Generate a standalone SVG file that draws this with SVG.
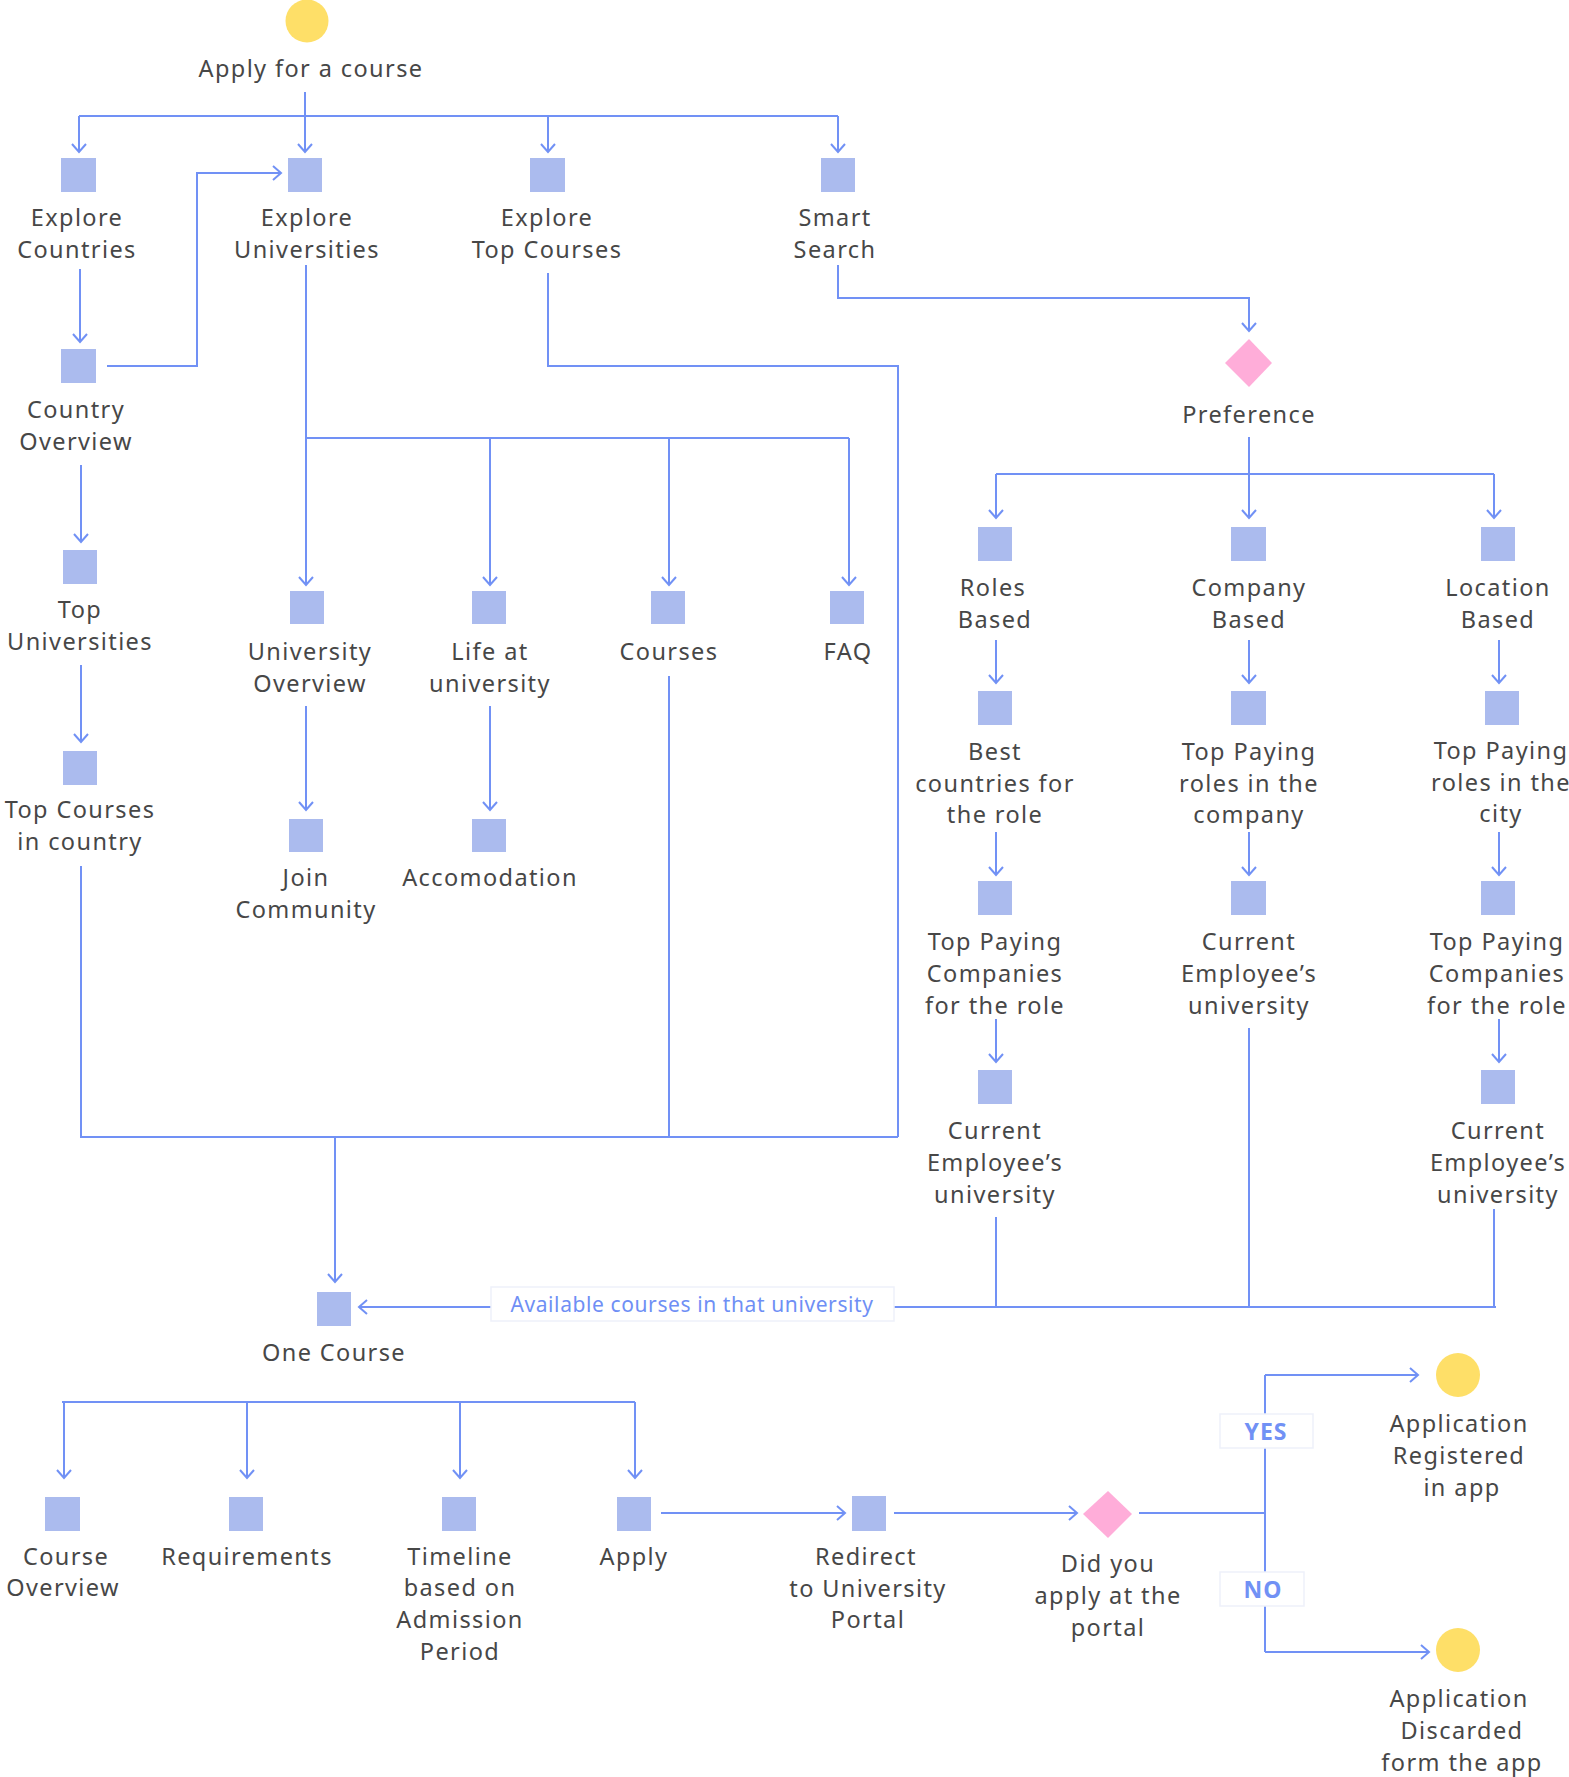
<svg xmlns="http://www.w3.org/2000/svg" width="1569" height="1777" viewBox="0 0 1569 1777">
<style>
.bx{fill:#abbbee}
.lb{font-family:"Noto Sans","Liberation Sans",sans-serif;font-size:23.5px;fill:#474747;text-anchor:middle;letter-spacing:1.4px}
.ln{fill:none;stroke:#7191f5;stroke-width:2}
.ar{marker-end:url(#arr)}
.tag{fill:#ffffff;stroke:#eef1fa;stroke-width:1.5}
.tt{font-family:"Noto Sans","Liberation Sans",sans-serif;font-size:21px;fill:#6f8ff5;text-anchor:middle;letter-spacing:0.6px}
.yn{font-family:"Noto Sans","Liberation Sans",sans-serif;font-size:23px;font-weight:bold;fill:#7191f5;text-anchor:middle;letter-spacing:1px}
.dm{fill:#ffadd9}
.cr{fill:#fedf68}
</style>
<defs>
<marker id="arr" markerUnits="userSpaceOnUse" viewBox="-10 -10 20 20" markerWidth="20" markerHeight="20" refX="0" refY="0" orient="auto" overflow="visible">
<path d="M-8,-7 L0,0 L-8,7" fill="none" stroke="#7191f5" stroke-width="2"/>
</marker>
</defs>
<rect width="1569" height="1777" fill="#ffffff"/>

<g id="connectors">
<path class="ln" d="M305,92 V116"/>
<path class="ln" d="M79,116 H838"/>
<path class="ln ar" d="M79,116 V152"/>
<path class="ln ar" d="M305,116 V152"/>
<path class="ln ar" d="M548,116 V152"/>
<path class="ln ar" d="M838,116 V152"/>
<path class="ln ar" d="M80,269 V342"/>
<path class="ln ar" d="M107,366 H197 V173 H281"/>
<path class="ln ar" d="M306,265 V585"/>
<path class="ln" d="M306,438 H849"/>
<path class="ln ar" d="M490,438 V585"/>
<path class="ln ar" d="M669,438 V585"/>
<path class="ln ar" d="M849,438 V585"/>
<path class="ln" d="M548,273 V366 H898 V1137"/>
<path class="ln ar" d="M838,265 V298 H1249 V331"/>
<path class="ln" d="M1249,437 V474"/>
<path class="ln" d="M996,474 H1494"/>
<path class="ln ar" d="M996,474 V518"/>
<path class="ln ar" d="M1249,474 V518"/>
<path class="ln ar" d="M1494,474 V518"/>
<path class="ln ar" d="M996,640 V683"/>
<path class="ln ar" d="M996,832 V875"/>
<path class="ln ar" d="M996,1019 V1062"/>
<path class="ln" d="M996,1217 V1307"/>
<path class="ln ar" d="M1249,640 V683"/>
<path class="ln ar" d="M1249,832 V875"/>
<path class="ln" d="M1249,1028 V1307"/>
<path class="ln ar" d="M1499,640 V683"/>
<path class="ln ar" d="M1499,832 V875"/>
<path class="ln ar" d="M1499,1019 V1062"/>
<path class="ln" d="M1494,1209 V1307"/>
<path class="ln" d="M1496,1307 H894"/>
<path class="ln ar" d="M491,1307 H359"/>
<path class="ln ar" d="M81,465 V542"/>
<path class="ln ar" d="M81,665 V742"/>
<path class="ln" d="M81,866 V1137 H898"/>
<path class="ln" d="M669,676 V1137"/>
<path class="ln ar" d="M335,1137 V1282"/>
<path class="ln ar" d="M306,706 V810"/>
<path class="ln ar" d="M490,706 V810"/>
<path class="ln" d="M62,1402 H635"/>
<path class="ln ar" d="M64,1402 V1478"/>
<path class="ln ar" d="M247,1402 V1478"/>
<path class="ln ar" d="M460,1402 V1478"/>
<path class="ln ar" d="M635,1402 V1478"/>
<path class="ln ar" d="M661,1513 H845"/>
<path class="ln ar" d="M894,1513 H1077"/>
<path class="ln" d="M1139,1513 H1265"/>
<path class="ln" d="M1265,1375 V1652"/>
<path class="ln ar" d="M1265,1375 H1418"/>
<path class="ln ar" d="M1265,1652 H1429"/>
<g id="label-available">
<rect class="tag" x="491" y="1287" width="403" height="34"/>
<text class="tt" x="692" y="1312">Available courses in that university</text>
</g>
<g id="label-yes">
<rect class="tag" x="1220" y="1414" width="93" height="34"/>
<text class="yn" x="1266" y="1440">YES</text>
</g>
<g id="label-no">
<rect class="tag" x="1220" y="1572" width="84" height="34"/>
<text class="yn" x="1263" y="1598">NO</text>
</g>
</g>

<g id="start">
<circle class="cr" cx="307" cy="21" r="21.5"/>
<text class="lb" x="311" y="77">Apply for a course</text>
</g>
<g id="explore-countries">
<rect class="bx" x="61" y="158" width="35" height="34"/>
<text class="lb"><tspan x="77" y="226">Explore</tspan><tspan x="77" y="258">Countries</tspan></text>
</g>
<g id="explore-universities">
<rect class="bx" x="288" y="158" width="34" height="34"/>
<text class="lb"><tspan x="307" y="226">Explore</tspan><tspan x="307" y="258">Universities</tspan></text>
</g>
<g id="explore-top-courses">
<rect class="bx" x="530" y="158" width="35" height="34"/>
<text class="lb"><tspan x="547" y="226">Explore</tspan><tspan x="547" y="258">Top Courses</tspan></text>
</g>
<g id="smart-search">
<rect class="bx" x="821" y="158" width="34" height="34"/>
<text class="lb"><tspan x="835" y="226">Smart</tspan><tspan x="835" y="258">Search</tspan></text>
</g>
<g id="country-overview">
<rect class="bx" x="61" y="349" width="35" height="34"/>
<text class="lb"><tspan x="76" y="418">Country</tspan><tspan x="76" y="450">Overview</tspan></text>
</g>
<g id="top-universities">
<rect class="bx" x="63" y="550" width="34" height="34"/>
<text class="lb"><tspan x="80" y="618">Top</tspan><tspan x="80" y="650">Universities</tspan></text>
</g>
<g id="top-courses-country">
<rect class="bx" x="63" y="751" width="34" height="34"/>
<text class="lb"><tspan x="80" y="818">Top Courses</tspan><tspan x="80" y="850">in country</tspan></text>
</g>
<g id="university-overview">
<rect class="bx" x="290" y="591" width="34" height="33"/>
<text class="lb"><tspan x="310" y="660">University</tspan><tspan x="310" y="692">Overview</tspan></text>
</g>
<g id="life-at-university">
<rect class="bx" x="472" y="591" width="34" height="33"/>
<text class="lb"><tspan x="490" y="660">Life at</tspan><tspan x="490" y="692">university</tspan></text>
</g>
<g id="courses">
<rect class="bx" x="651" y="591" width="34" height="33"/>
<text class="lb" x="669" y="660">Courses</text>
</g>
<g id="faq">
<rect class="bx" x="830" y="591" width="34" height="33"/>
<text class="lb" x="848" y="660">FAQ</text>
</g>
<g id="join-community">
<rect class="bx" x="289" y="819" width="34" height="33"/>
<text class="lb"><tspan x="306" y="886">Join</tspan><tspan x="306" y="918">Community</tspan></text>
</g>
<g id="accomodation">
<rect class="bx" x="472" y="819" width="34" height="33"/>
<text class="lb" x="490" y="886">Accomodation</text>
</g>
<g id="preference">
<polygon class="dm" points="1249,339 1272,363 1249,387 1225,363"/>
<text class="lb" x="1249" y="423">Preference</text>
</g>
<g id="roles-based">
<rect class="bx" x="978" y="527" width="34" height="34"/>
<text class="lb"><tspan x="993" y="596">Roles</tspan><tspan x="995" y="628">Based</tspan></text>
</g>
<g id="company-based">
<rect class="bx" x="1231" y="527" width="35" height="34"/>
<text class="lb"><tspan x="1249" y="596">Company</tspan><tspan x="1249" y="628">Based</tspan></text>
</g>
<g id="location-based">
<rect class="bx" x="1481" y="527" width="34" height="34"/>
<text class="lb"><tspan x="1498" y="596">Location</tspan><tspan x="1498" y="628">Based</tspan></text>
</g>
<g id="best-countries">
<rect class="bx" x="978" y="691" width="34" height="34"/>
<text class="lb"><tspan x="995" y="760">Best</tspan><tspan x="995" y="792">countries for</tspan><tspan x="995" y="823">the role</tspan></text>
</g>
<g id="top-paying-roles-company">
<rect class="bx" x="1231" y="691" width="35" height="34"/>
<text class="lb"><tspan x="1249" y="760">Top Paying</tspan><tspan x="1249" y="792">roles in the</tspan><tspan x="1249" y="823">company</tspan></text>
</g>
<g id="top-paying-roles-city">
<rect class="bx" x="1485" y="691" width="34" height="34"/>
<text class="lb"><tspan x="1501" y="759">Top Paying</tspan><tspan x="1501" y="791">roles in the</tspan><tspan x="1501" y="822">city</tspan></text>
</g>
<g id="top-paying-companies-roles">
<rect class="bx" x="978" y="881" width="34" height="34"/>
<text class="lb"><tspan x="995" y="950">Top Paying</tspan><tspan x="995" y="982">Companies</tspan><tspan x="995" y="1014">for the role</tspan></text>
</g>
<g id="employee-university-company">
<rect class="bx" x="1231" y="881" width="35" height="34"/>
<text class="lb"><tspan x="1249" y="950">Current</tspan><tspan x="1249" y="982">Employee’s</tspan><tspan x="1249" y="1014">university</tspan></text>
</g>
<g id="top-paying-companies-location">
<rect class="bx" x="1481" y="881" width="34" height="34"/>
<text class="lb"><tspan x="1497" y="950">Top Paying</tspan><tspan x="1497" y="982">Companies</tspan><tspan x="1497" y="1014">for the role</tspan></text>
</g>
<g id="employee-university-roles">
<rect class="bx" x="978" y="1070" width="34" height="34"/>
<text class="lb"><tspan x="995" y="1139">Current</tspan><tspan x="995" y="1171">Employee’s</tspan><tspan x="995" y="1203">university</tspan></text>
</g>
<g id="employee-university-location">
<rect class="bx" x="1481" y="1070" width="34" height="34"/>
<text class="lb"><tspan x="1498" y="1139">Current</tspan><tspan x="1498" y="1171">Employee’s</tspan><tspan x="1498" y="1203">university</tspan></text>
</g>
<g id="one-course">
<rect class="bx" x="317" y="1292" width="34" height="34"/>
<text class="lb" x="334" y="1361">One Course</text>
</g>
<g id="course-overview">
<rect class="bx" x="45" y="1497" width="35" height="34"/>
<text class="lb"><tspan x="66" y="1565">Course</tspan><tspan x="63" y="1596">Overview</tspan></text>
</g>
<g id="requirements">
<rect class="bx" x="229" y="1497" width="34" height="34"/>
<text class="lb" x="247" y="1565">Requirements</text>
</g>
<g id="timeline">
<rect class="bx" x="442" y="1497" width="34" height="34"/>
<text class="lb"><tspan x="460" y="1565">Timeline</tspan><tspan x="460" y="1596">based on</tspan><tspan x="460" y="1628">Admission</tspan><tspan x="460" y="1660">Period</tspan></text>
</g>
<g id="apply">
<rect class="bx" x="617" y="1497" width="34" height="34"/>
<text class="lb" x="634" y="1565">Apply</text>
</g>
<g id="redirect">
<rect class="bx" x="852" y="1496" width="34" height="35"/>
<text class="lb"><tspan x="866" y="1565">Redirect</tspan><tspan x="868" y="1597">to University</tspan><tspan x="868" y="1628">Portal</tspan></text>
</g>
<g id="did-you-apply">
<polygon class="dm" points="1108,1491 1132,1514 1108,1538 1083,1514"/>
<text class="lb"><tspan x="1108" y="1572">Did you</tspan><tspan x="1108" y="1604">apply at the</tspan><tspan x="1108" y="1636">portal</tspan></text>
</g>
<g id="application-registered">
<circle class="cr" cx="1458" cy="1375" r="22"/>
<text class="lb"><tspan x="1459" y="1432">Application</tspan><tspan x="1459" y="1464">Registered</tspan><tspan x="1462" y="1496">in app</tspan></text>
</g>
<g id="application-discarded">
<circle class="cr" cx="1458" cy="1650" r="22"/>
<text class="lb"><tspan x="1459" y="1707">Application</tspan><tspan x="1462" y="1739">Discarded</tspan><tspan x="1462" y="1771">form the app</tspan></text>
</g>
</svg>
